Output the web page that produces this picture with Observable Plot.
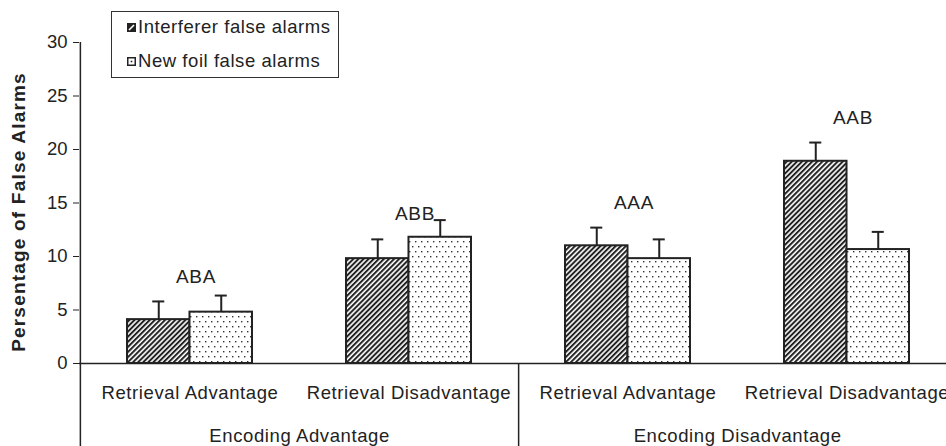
<!DOCTYPE html>
<html>
<head>
<meta charset="utf-8">
<script src="https://cdn.jsdelivr.net/npm/d3@7"></script>
<script src="https://cdn.jsdelivr.net/npm/@observablehq/plot@0.6"></script>
<style>
  body { margin: 0; background: #fff; }
  #wrap { position: relative; width: 946px; height: 446px; overflow: hidden; font-family: "Liberation Sans", Arial, sans-serif; }
  #chart { width: 956px; height: 446px; }
  #chart svg { max-width: none !important; display: block; }
  #legend { position: absolute; left: 111px; top: 11px; width: 226px; height: 65px; border: 1px solid #333; background: #fff; }
  .item { position: absolute; left: 15px; font-size: 18.5px; letter-spacing: 0.55px; color: #222; height: 20px; line-height: 20px; display: flex; align-items: center; white-space: nowrap; }
  .item svg { margin-right: 2px; }
  #chart svg text { letter-spacing: 0.6px; }
</style>
</head>
<body>
<svg width="0" height="0" style="position:absolute">
  <defs>
    <pattern id="hatch" patternUnits="userSpaceOnUse" width="3.6" height="3.6" patternTransform="rotate(45)">
      <rect width="3.6" height="3.6" fill="#fff"/>
      <rect x="0" y="0" width="2" height="3.6" fill="#222"/>
    </pattern>
    <pattern id="dots" patternUnits="userSpaceOnUse" width="6" height="10">
      <rect width="6" height="10" fill="#fff"/>
      <rect x="1" y="1" width="1.4" height="1.4" fill="#333"/>
      <rect x="4" y="6" width="1.4" height="1.4" fill="#333"/>
    </pattern>
  </defs>
</svg>
<div id="wrap">
  <div id="chart"></div>
  <div id="legend"></div>
</div>
<script>
// ---- data ----
const conditions = ["EA-RA", "EA-RD", "ED-RA", "ED-RD"];
const retrievalLabels = ["Retrieval Advantage", "Retrieval Disadvantage", "Retrieval Advantage", "Retrieval Disadvantage"];
const encodingLabels = ["Encoding Advantage", "Encoding Disadvantage"];
const seriesNames = ["Interferer false alarms", "New foil false alarms"];
const interferer = [4.1, 9.8, 11.0, 18.9];
const interfererErr = [5.8, 11.6, 12.7, 20.65];
const newFoil = [4.8, 11.8, 9.8, 10.65];
const newFoilErr = [6.35, 13.4, 11.6, 12.3];
const letters = ["ABA", "ABB", "AAA", "AAB"];
const yTicks = [0, 5, 10, 15, 20, 25, 30];
const yTitle = "Persentage of False Alarms";

// ---- layout ----
const W = 956, H = 446, mL = 79, mR = 0, mT = 42, mB = 83;
const padIn = 0.43, padOut = 0.215;
const step = (W - mL - mR) / (conditions.length - padIn + 2 * padOut);
const bw = step * (1 - padIn);
const capW = 12;

const rows = conditions.map((c, i) => ({
  c, interferer: interferer[i], iErr: interfererErr[i],
  foil: newFoil[i], fErr: newFoilErr[i], letters: letters[i]
}));

const ink = "#222";
const chart = Plot.plot({
  width: W, height: H,
  marginLeft: mL, marginRight: mR, marginTop: mT, marginBottom: mB,
  style: { fontFamily: "Liberation Sans, Arial, sans-serif", fontSize: "18.5px", color: ink, background: "#fff", overflow: "visible", maxWidth: "none" },
  x: { domain: conditions, paddingInner: padIn, paddingOuter: padOut, axis: null },
  y: { domain: [0, 30], axis: null },
  marks: [
    Plot.axisY({ ticks: yTicks, tickSize: 6, tickPadding: 6, label: null, tickFormat: d => d }),
    Plot.text([yTitle], { frameAnchor: "left", textAnchor: "middle", lineAnchor: "middle", rotate: -90, dx: -61, dy: 9,
                          text: d => d, fontSize: 19, fontWeight: "bold" }),
    Plot.axisX({ tickSize: 0, tickPadding: 22, label: null, tickFormat: d => retrievalLabels[conditions.indexOf(d)] }),
    Plot.axisX({ ticks: [conditions[0], conditions[2]], tickSize: 0, tickPadding: 65, label: null, dx: step / 2,
                 tickFormat: d => encodingLabels[conditions.indexOf(d) / 2] }),
    Plot.barY(rows, { x: "c", y: "interferer", insetRight: bw / 2, fill: "url(#hatch)", stroke: ink, strokeWidth: 2 }),
    Plot.barY(rows, { x: "c", y: "foil", insetLeft: bw / 2, fill: "url(#dots)", stroke: ink, strokeWidth: 2 }),
    Plot.ruleX(rows, { x: "c", y1: "interferer", y2: "iErr", dx: -bw / 4, stroke: ink, strokeWidth: 2 }),
    Plot.ruleX(rows, { x: "c", y1: "foil", y2: "fErr", dx: bw / 4, stroke: ink, strokeWidth: 2 }),
    Plot.tickY(rows, { x: "c", y: "iErr", insetLeft: bw / 4 - capW / 2, insetRight: 3 * bw / 4 - capW / 2, stroke: ink, strokeWidth: 2 }),
    Plot.tickY(rows, { x: "c", y: "fErr", insetLeft: 3 * bw / 4 - capW / 2, insetRight: bw / 4 - capW / 2, stroke: ink, strokeWidth: 2 }),
    Plot.text(rows, { x: "c", y: "iErr", text: "letters", dy: -25, dx: 6, fontSize: 19, fill: ink }),
    Plot.ruleY([0], { stroke: ink, strokeWidth: 1.5 }),
    Plot.ruleX([conditions[0]], { dx: -step / 2, insetBottom: -mB, stroke: ink, strokeWidth: 1.5 }),
    Plot.ruleX([conditions[1]], { dx: step / 2, insetTop: H - mT - mB, insetBottom: -mB, stroke: ink, strokeWidth: 1.5 })
  ]
});
document.getElementById("chart").appendChild(chart);

// per-text letter spacing
d3.select(chart).selectAll("text").each(function () {
  const t = d3.select(this);
  const s = t.text();
  if (s === yTitle) t.style("letter-spacing", "1.2px");
  else if (/^\d+$/.test(s)) t.style("letter-spacing", "0px");
});

// ---- legend ----
const legend = d3.select("#legend");
const swatches = [
  s => { s.append("rect").attr("x", 0.5).attr("y", 0.5).attr("width", 8).attr("height", 8).attr("fill", ink).attr("stroke", ink);
         s.append("line").attr("x1", 2).attr("y1", 7).attr("x2", 7).attr("y2", 2).attr("stroke", "#fff").attr("stroke-width", 1.6); },
  s => { s.append("rect").attr("x", 0.75).attr("y", 0.75).attr("width", 7.5).attr("height", 7.5).attr("fill", "#fff").attr("stroke", ink).attr("stroke-width", 1.5);
         s.append("rect").attr("x", 3.7).attr("y", 3.7).attr("width", 1.6).attr("height", 1.6).attr("fill", ink); }
];
seriesNames.forEach((name, i) => {
  const item = legend.append("div").attr("class", "item").style("top", (i === 0 ? 5 : 39) + "px");
  const s = item.append("svg").attr("width", 9).attr("height", 9);
  swatches[i](s);
  item.append("span").text(name);
});
</script>
</body>
</html>
